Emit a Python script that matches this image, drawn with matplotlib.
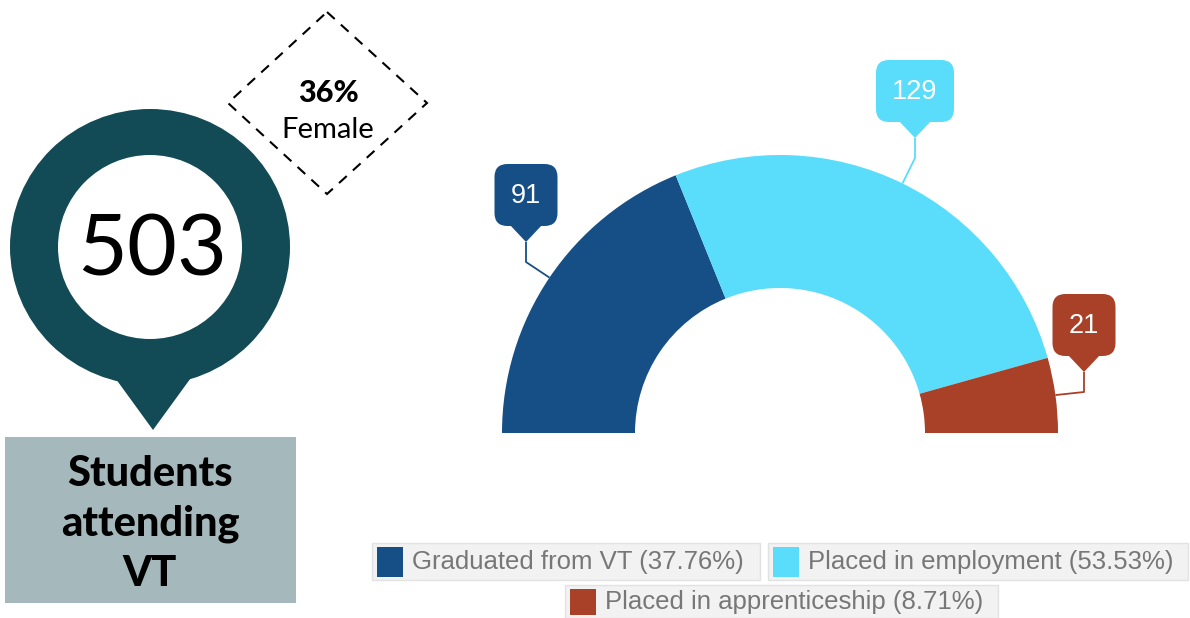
import matplotlib
matplotlib.use('Agg')
import matplotlib.pyplot as plt
from matplotlib.patches import Ellipse, Polygon, Rectangle, FancyBboxPatch
import numpy as np

# data
categories = ['Graduated from VT', 'Placed in employment', 'Placed in apprenticeship']
counts = [91, 129, 21]
colors = ['#164f85', '#5adcfb', '#a84127']
total_students = 503
female_share = '36%'

fig = plt.figure(figsize=(11.9, 6.18), dpi=100)
ax = fig.add_axes([0, 0, 1, 1])

# semi donut (hidden half at the bottom)
cx, cy, R, ring = 780, 433, 278, 133
total = sum(counts)
ax.pie(counts + [total], startangle=180, counterclock=True, radius=R, center=(cx, cy),
       colors=colors + ['none'], wedgeprops=dict(width=ring, linewidth=0))

ax.set_xlim(0, 1190)
ax.set_ylim(618, 0)
ax.set_aspect('equal')
ax.axis('off')

# callout labels: (box centre x, elbow y)
label_pos = [(526, 262), (915, 158), (1084, 392)]
cum = 0
for v, col, (bx, ey) in zip(counts, colors, label_pos):
    a = np.radians(180 - 180 * (cum + v / 2) / total)
    cum += v
    px, py = cx + R * np.cos(a), cy - R * np.sin(a)
    tip = ey - 20
    ax.plot([px, bx, bx], [py, ey, tip], color=col, lw=1.3, solid_capstyle='butt')
    txt = str(v)
    w = 33 + 15 * len(txt)
    bot = tip - 16
    top = bot - 62
    ax.add_patch(FancyBboxPatch((bx - w / 2, top), w, 62,
                                boxstyle='round,pad=0,rounding_size=13',
                                facecolor=col, edgecolor='none'))
    ax.add_patch(Polygon([(bx - 16, bot - 1), (bx + 16, bot - 1), (bx, tip)],
                         closed=True, facecolor=col, edgecolor='none'))
    ax.text(bx, (top + bot) / 2 + 1, txt, color='white', fontsize=19.5,
            family='Liberation Sans', ha='center', va='center')

# legend
leg_boxes = [(372, 543, 388, 37), (768, 543, 420, 37), (565, 585, 433, 33)]
for (x0, y0, w, h), name, v, col in zip(leg_boxes, categories, counts, colors):
    ax.add_patch(Rectangle((x0, y0), w, h, facecolor='#f2f2f2', edgecolor='#e2e2e2', lw=1))
    ax.add_patch(Rectangle((x0 + 5, y0 + 4), 26, h - 7, facecolor=col, edgecolor='none'))
    ax.text(x0 + 40, y0 + h / 2 + 1, f'{name} ({v / total * 100:.2f}%)', color='#777777',
            fontsize=18.5, family='Liberation Sans', ha='left', va='center')

# left pin graphic
teal = '#124a55'
ax.add_patch(Polygon([(113, 375), (193, 375), (153, 430)], closed=True, facecolor=teal, edgecolor='none'))
ax.add_patch(Ellipse((150, 247), 280, 276, facecolor=teal, edgecolor='none'))
ax.add_patch(Ellipse((150, 247), 184, 184, facecolor='white', edgecolor='none'))
ax.text(152, 252, str(total_students), fontsize=62, family='Lato', ha='center', va='center', color='black')

ax.add_patch(Rectangle((5, 437), 291, 166, facecolor='#a5b8bc', edgecolor='none'))
for yy, line in zip([474, 524, 574], ['Students', 'attending', 'VT']):
    ax.text(150, yy, line, fontsize=30, family='Lato', weight='black', ha='center', va='center')

# dashed diamond
ax.add_patch(Polygon([(327, 12), (427, 103), (327, 194), (228, 103)], closed=True,
                     fill=False, edgecolor='black', lw=1.5, linestyle=(0, (5, 4))))
ax.text(328, 93, female_share, fontsize=22, family='Lato', weight='black', ha='center', va='center')
ax.text(328, 130, 'Female', fontsize=21, family='Lato', ha='center', va='center')

fig.savefig('out.png', dpi=100)
